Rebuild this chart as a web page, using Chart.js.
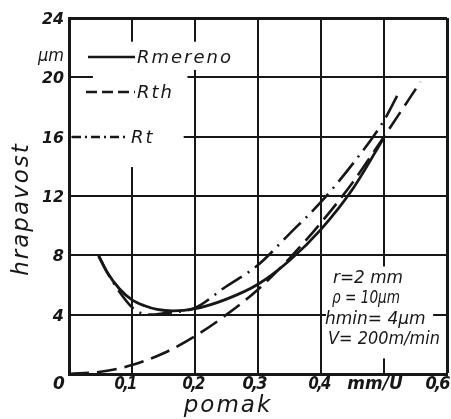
<!DOCTYPE html>
<html>
<head>
<meta charset="utf-8">
<script src="https://cdn.jsdelivr.net/npm/chart.js@4.4.1/dist/chart.umd.min.js"></script>
<style>
  html, body { margin: 0; padding: 0; background: #fff; }
  canvas { display: block; }
</style>
</head>
<body>
<canvas id="chart" width="451" height="419"></canvas>
<script>
// pomak (mm/U) -> hrapavost (µm)
const rMerenoX = [0.047, 0.06, 0.08, 0.10, 0.12, 0.14, 0.165, 0.20, 0.25, 0.30, 0.35, 0.40, 0.45, 0.50];
const rMerenoY = [7.95, 6.9, 5.75, 5.0, 4.6, 4.35, 4.25, 4.4, 5.05, 6.05, 7.65, 9.75, 12.45, 15.95];

const rThX = [0, 0.05, 0.10, 0.15, 0.20, 0.25, 0.30, 0.35, 0.40, 0.45, 0.50, 0.558];
const rThY = [0, 0.15, 0.6, 1.4, 2.55, 4.0, 5.7, 7.8, 10.2, 12.9, 16.0, 19.7];

const rTX = [0.047, 0.06, 0.08, 0.10, 0.115, 0.13, 0.15, 0.20, 0.246, 0.30, 0.35, 0.40, 0.45, 0.50, 0.525];
const rTY = [8.0, 6.9, 5.55, 4.5, 4.1, 4.0, 4.1, 4.45, 5.8, 7.35, 9.45, 11.6, 14.15, 17.1, 19.1];

const xTickValues = [0, 0.1, 0.2, 0.3, 0.4, 0.5, 0.6];
const xTickLabels = ['0', '0,1', '0,2', '0,3', '0,4', 'mm/U', '0,6'];
const yTickValues = [4, 8, 12, 16, 20, 24];
const yTickLabels = ['4', '8', '12', '16', '20', '24'];
const yUnitLabel = 'µm';
const xTitle = 'pomak';
const yTitle = 'hrapavost';
const noteLines = ['r=2 mm', 'ρ = 10µm', 'hmin= 4µm', 'V= 200m/min'];

const ink = '#171717';
const toPoints = (xs, ys) => xs.map((x, i) => ({ x: x, y: ys[i] }));

// white patches where the scan has no grid (legend, note box)
const paperPlugin = {
    id: 'paper',
    beforeDatasetsDraw(chart) {
        const { ctx, scales: { x, y } } = chart;
        const patches = [
            [0.025, 0.264, 22.4, 20.5],
            [0.038, 0.188, 20.5, 18.4],
            [0.004, 0.182, 18.4, 13.95],
            [0.408, 0.578, 7.25, 1.05]
        ];
        ctx.save();
        ctx.fillStyle = '#fff';
        patches.forEach(([x0, x1, y0, y1]) => {
            const px0 = x.getPixelForValue(x0), px1 = x.getPixelForValue(x1);
            const py0 = y.getPixelForValue(y0), py1 = y.getPixelForValue(y1);
            ctx.fillRect(px0, py0, px1 - px0, py1 - py0);
        });
        ctx.restore();
    },
    afterDatasetsDraw(chart) {
        const { ctx, scales: { x, y } } = chart;
        ctx.save();
        ctx.fillStyle = ink;
        ctx.strokeStyle = ink;

        // tick labels
        ctx.font = 'italic bold 16px "DejaVu Sans"';
        ctx.textBaseline = 'middle';
        ctx.textAlign = 'right';
        yTickValues.forEach((v, i) => {
            ctx.fillText(yTickLabels[i], 64, y.getPixelForValue(v) + 2, 22);
        });
        ctx.font = 'italic 17px "DejaVu Sans"';
        ctx.fillText(yUnitLabel, 64, y.getPixelForValue(21.4), 26);

        const xShift = [-11, -7, -2, -4, -2, -9, -10];
        const xWidth = [11, 21, 21, 23, 21, 58, 23];
        ctx.font = 'italic bold 17px "DejaVu Sans"';
        ctx.textAlign = 'center';
        xTickValues.forEach((v, i) => {
            ctx.letterSpacing = xTickLabels[i].length > 3 ? '0px' : '-2px';
            ctx.fillText(xTickLabels[i], x.getPixelForValue(v) + xShift[i], 385, xWidth[i]);
        });

        // axis titles
        ctx.font = 'italic 23px "DejaVu Sans"';
        ctx.letterSpacing = '2px';
        ctx.fillText(xTitle, 228, 406);
        ctx.save();
        ctx.translate(22, 209);
        ctx.rotate(-Math.PI / 2);
        ctx.fillText(yTitle, 0, 0, 140);
        ctx.restore();

        // legend inside the plot
        const rows = [
            { y: 57, x1: 88, x2: 135, tx: 137, dash: [] },
            { y: 92, x1: 86, x2: 135, tx: 137, dash: [11, 5] },
            { y: 137, x1: 72, x2: 129, tx: 131, dash: [9, 4, 2, 4] }
        ];
        ctx.font = 'italic 18px "DejaVu Sans"';
        ctx.letterSpacing = '2px';
        ctx.textAlign = 'left';
        chart.data.datasets.forEach((ds, i) => {
            const r = rows[i];
            ctx.lineWidth = 2.6;
            ctx.setLineDash(r.dash);
            ctx.beginPath();
            ctx.moveTo(r.x1, r.y);
            ctx.lineTo(r.x2, r.y);
            ctx.stroke();
            ctx.fillText(ds.label, r.tx, r.y + 1);
        });
        ctx.setLineDash([]);

        // test conditions
        ctx.font = 'italic 17px "DejaVu Sans"';
        ctx.letterSpacing = '0px';
        const notePos = [[333, 279, 70], [332, 299, 68], [325, 320, 102], [328, 340, 112]];
        noteLines.forEach((t, i) => {
            const [nx, ny, nw] = notePos[i];
            ctx.fillText(t, nx, ny, nw);
        });
        ctx.restore();
    }
};

new Chart(document.getElementById('chart'), {
    type: 'line',
    data: {
        datasets: [
            {
                label: 'Rmereno',
                data: toPoints(rMerenoX, rMerenoY),
                borderColor: ink,
                borderWidth: 2.8,
                pointRadius: 0,
                cubicInterpolationMode: 'monotone'
            },
            {
                label: 'Rth',
                data: toPoints(rThX, rThY),
                borderColor: ink,
                borderWidth: 2.6,
                borderDash: [20, 8],
                pointRadius: 0,
                cubicInterpolationMode: 'monotone'
            },
            {
                label: 'Rt',
                data: toPoints(rTX, rTY),
                borderColor: ink,
                borderWidth: 2.6,
                borderDash: [24, 7, 2, 7],
                pointRadius: 0,
                cubicInterpolationMode: 'monotone'
            }
        ]
    },
    options: {
        responsive: false,
        animation: false,
        layout: { padding: { left: 69, right: 4, top: 18, bottom: 45 } },
        plugins: { legend: { display: false }, tooltip: { enabled: false } },
        scales: {
            x: {
                type: 'linear',
                min: 0,
                max: 0.6,
                ticks: { display: false, stepSize: 0.1 },
                grid: {
                    color: ink,
                    lineWidth: c => (c.tick && c.tick.value >= 0.6 ? 3 : 2),
                    drawTicks: false
                },
                border: { color: ink, width: 3 }
            },
            y: {
                min: 0,
                max: 24,
                ticks: { display: false, stepSize: 4 },
                grid: {
                    color: ink,
                    lineWidth: c => (c.tick && c.tick.value >= 24 ? 3 : 2),
                    drawTicks: false
                },
                border: { color: ink, width: 3 }
            }
        }
    },
    plugins: [paperPlugin]
});
</script>
</body>
</html>
